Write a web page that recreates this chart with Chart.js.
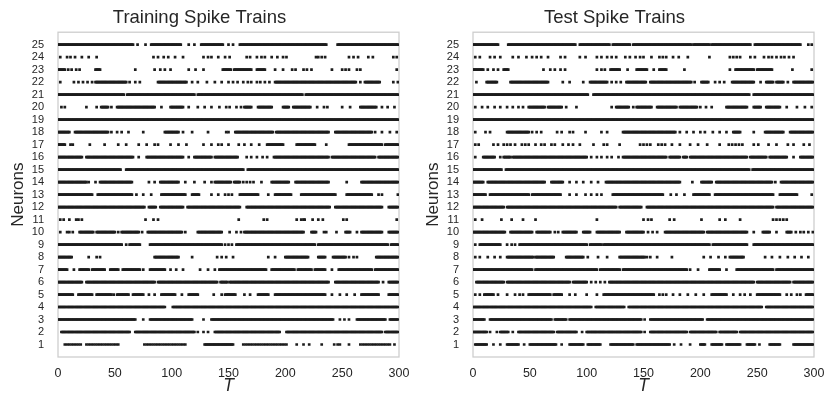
<!DOCTYPE html>
<html>
<head>
<meta charset="utf-8">
<script src="https://cdn.jsdelivr.net/npm/chart.js@4"></script>
<style>
  body{margin:0;background:#fff}
  #wrap{position:relative;width:827px;height:400px}
  canvas{position:absolute;top:0}
</style>
</head>
<body>
<div id="wrap">
  <canvas id="train" width="413" height="400" style="left:0"></canvas>
  <canvas id="test" width="413" height="400" style="left:415px"></canvas>
</div>
<script>
/* raster de spikes: entrenamiento vs test */
const NEURONS = [1,2,3,4,5,6,7,8,9,10,11,12,13,14,15,16,17,18,19,20,21,22,23,24,25];
const X_TICKS = [0,50,100,150,200,250,300];

// tramos densos [desde, hasta, paso?] por neurona (1..25)
const TRAIN_RUNS = [
  [[6,20,2],[25,53,2],[76,113,2],[129,154],[163,202,2],[266,292,2]],
  [[3,63],[68,120],[138,195],[201,285],[288,299]],
  [[0,68],[81,118],[135,242],[263,288],[292,299]],
  [[0,94],[101,299]],
  [[0,13],[18,30],[34,47],[52,62],[66,75],[91,103],[115,123],[147,156],[176,185],[191,235],[267,282],[291,299]],
  [[0,21],[25,85],[88,140],[143,149],[151,238],[244,282],[291,299]],
  [[0,8],[19,27],[30,41],[46,53],[57,72],[81,94],[142,183],[188,208],[211,223],[226,235],[247,276],[279,299]],
  [[0,12],[85,106],[200,220],[229,235],[242,253],[280,299]],
  [[0,56],[63,72],[81,144],[157,226],[229,290],[293,299]],
  [[19,31],[34,50],[56,71],[79,109],[123,144],[164,216],[223,227],[253,257],[267,285],[291,299]],
  [],
  [[0,76],[80,86],[90,110],[114,160],[166,239],[244,285],[291,299]],
  [[0,30],[35,65],[91,112],[118,124],[160,176],[191,205],[214,244],[254,276]],
  [[0,25],[37,65],[91,106],[138,152],[155,160],[188,203],[209,238],[267,299]],
  [[0,55],[60,163],[167,299]],
  [[0,21],[25,66],[78,110],[120,135],[138,158],[190,238],[241,279],[282,299]],
  [[0,6],[184,198],[210,226],[256,285],[288,299]],
  [[0,10],[15,44],[94,106],[156,189],[192,238],[244,276]],
  [[0,299]],
  [[38,44],[52,85],[99,110],[164,170],[176,188],[198,203],[207,222],[266,280]],
  [[0,58],[61,120],[123,215],[218,299]],
  [[33,60],[88,113],[191,262],[270,283]],
  [[0,6],[33,37],[145,152],[155,170],[175,182]],
  [],
  [[0,66],[82,108],[126,145],[160,236],[246,299]]
];
// spikes sueltos por neurona (1..25)
const TRAIN_DOTS = [
  [210,216,221,232,243,246,248,256,296],
  [123,128,132],
  [75,128,248,252,256],
  [],
  [49,80,85,109,137,144,150,164,169,241,248,254,261],
  [286],
  [14,75,99,104,110,125,132,138,241],
  [27,34,37,118,140,144,148,154,185,191,256,260,263],
  [60,147,150,153],
  [2,8,10,13,53,74,112,151,157,161,234,236,245,263],
  [2,5,10,16,18,21,77,84,88,159,181,184,210,214,216,217,224,229,233,251,254,298],
  [],
  [69,75,82,135,141,147,150,153,185,282,285,299],
  [27,33,80,85,90,112,120,129,135,163,166,169,172,179,254],
  [],
  [71,115,166,170,175,180,184],
  [11,13,28,41,53,60,71,78,85,88,99,106,113,128,135,141,144,150,159,164,170,177,236],
  [47,52,56,62,75,110,118,132,148,150,279,285,292,298],
  [],
  [3,6,25,34,47,91,115,123,129,135,142,148,151,157,161,228,234,237,250,257,285,290,296],
  [],
  [2,14,18,22,26,30,63,68,72,118,123,131,138,144,150,154,158,163,167,170,175,178,182,186,266,295,299],
  [9,12,16,19,68,85,90,94,99,115,121,128,191,198,206,209,216,219,223,241,250,253,256,263,266,298],
  [2,8,11,15,21,27,34,84,88,93,97,103,110,128,132,135,141,147,151,166,169,175,179,182,188,193,198,201,227,229,232,235,256,260,264,273,277,295,298],
  [70,77,115,120,150,154]
];

const TEST_RUNS = [
  [[2,12],[30,40],[50,73],[85,97],[101,112],[121,141],[144,173],[200,204],[210,219],[223,235],[241,248],[261,270],[282,299]],
  [[0,12],[24,31],[40,71],[74,91],[100,148],[156,188],[191,214],[217,232],[235,299]],
  [[0,10],[15,69],[72,82],[85,148],[156,202],[206,299]],
  [[0,104],[108,133],[137,254],[258,299]],
  [[10,18],[49,68],[71,78],[115,159],[210,223],[250,270],[293,299]],
  [[3,27],[30,85],[88,100],[120,247],[250,279],[282,299]],
  [[0,52],[55,109],[112,129],[132,188],[208,217],[232,264],[267,299]],
  [[30,53],[55,71],[82,97],[129,151],[226,238]],
  [[6,24],[41,100],[103,113],[115,208],[211,241],[247,299]],
  [[0,28],[33,52],[56,68],[79,91],[97,103],[109,129],[135,149],[169,203],[206,241],[255,261],[276,280]],
  [],
  [[0,27],[30,126],[129,148],[153,264],[267,299]],
  [[0,11],[15,49],[52,77],[123,167],[194,208],[213,264],[270,285]],
  [[0,9],[13,63],[69,79],[117,182],[201,210],[214,263],[271,299]],
  [[0,25],[29,243],[246,299]],
  [[9,19],[27,33],[35,100],[132,170],[173,182],[185,188],[191,241],[244,258],[261,276],[288,299]],
  [],
  [[30,49],[132,178],[229,235],[257,273],[279,299]],
  [[0,299]],
  [[49,63],[66,78],[126,137],[144,157],[162,179],[182,197],[223,241],[247,253],[258,270]],
  [[0,101],[106,243],[247,299]],
  [[12,21],[33,66],[103,118],[135,152],[156,192],[201,207],[228,247],[258,264],[267,273],[282,299]],
  [[0,9],[27,31],[121,129],[144,153],[164,170],[231,247],[250,263]],
  [],
  [[0,22],[31,90],[94,120],[123,138],[141,192],[194,208],[210,244],[248,288]]
];
const TEST_DOTS = [
  [18,24,45,78,177,183,191,252],
  [15,21,35,96,151],
  [151],
  [],
  [2,6,22,30,37,41,44,85,90,100,109,164,167,170,176,182,189,196,203,229,235,239,244,276,280,285,288],
  [104,108,112,116],
  [191,198,223],
  [2,6,13,19,24,101,110,118,153,156,162,175,203,209,216,222,257,263,270,277,283,289,295],
  [2,30,34,37],
  [72,75,150,154,158,162,247,267,284,288,291,295,299],
  [2,8,25,34,44,55,109,150,154,157,173,177,201,217,222,235,264,267,270,273,276],
  [],
  [85,91,99,104,109,113,174,179,186,298],
  [85,91,97,104,110,193,266],
  [],
  [2,24,104,109,113,118,122,128,282],
  [2,5,18,22,27,30,33,37,43,46,49,55,60,63,69,72,79,84,88,94,106,115,118,129,147,150,153,156,163,166,169,175,182,191,198,206,217,225,228,231,234,237,247,251,260,267,277,282,291,296],
  [2,11,15,52,56,60,74,78,85,88,99,113,118,182,188,194,200,204,211,217,223,247],
  [],
  [2,8,13,19,24,30,35,40,44,82,91,122,141,200,205,210,276,285,292,298],
  [],
  [3,79,85,97,122,126,130,195,213,217,221,253,277],
  [13,18,22,62,68,72,77,81,109,113,116,136,159,186,226,281,298],
  [2,6,15,19,24,35,40,47,52,56,60,66,77,81,94,99,109,113,118,122,126,134,138,143,147,150,157,164,167,170,176,181,189,208,226,229,232,235,244,248,256,260,263,267,271,274,278,282],
  [295,298]
];

const INK = '#262626';
const FONT = "'Liberation Sans', Arial, sans-serif";

// pasa tramos + sueltos a puntos {x:t, y:neurona}
function toPoints(runs, dots){
  const pts = [];
  NEURONS.forEach((n,i)=>{
    (runs[i]||[]).forEach(r=>{ const st=r[2]||1; for(let t=r[0];t<=r[1];t+=st) pts.push({x:t,y:n}); });
    (dots[i]||[]).forEach(t=>pts.push({x:t,y:n}));
  });
  return pts;
}

const frame = {
  id:'frame',
  beforeDatasetsDraw(chart){
    const {ctx, chartArea:a} = chart;
    ctx.save(); ctx.strokeStyle='#cccccc'; ctx.lineWidth=1.25;
    ctx.strokeRect(a.left, a.top, a.right-a.left, a.bottom-a.top);
    ctx.restore();
  }
};

function makeChart(id, title, runs, dots){
  return new Chart(document.getElementById(id), {
    type:'scatter',
    data:{datasets:[{data:toPoints(runs,dots), pointStyle:'rect', pointRadius:1.9, pointBorderWidth:0,
      backgroundColor:'#1c1c1c', borderColor:'#1c1c1c'}]},
    options:{
      responsive:false, animation:false, events:[], devicePixelRatio:1,
      layout:{padding:{left:0,right:14,top:0,bottom:0}},
      plugins:{
        legend:{display:false}, tooltip:{enabled:false},
        title:{display:true, text:title, color:INK, font:{family:FONT,size:18.5,weight:'normal'}, padding:{top:7,bottom:3}}
      },
      scales:{
        x:{type:'linear', min:0, max:300,
          grid:{display:false, drawTicks:false}, border:{display:false},
          afterBuildTicks:s=>{ s.ticks = X_TICKS.map(v=>({value:v})); },
          afterFit:s=>{ s.height = 43; s.paddingLeft = 0; s.paddingRight = 0; },
          ticks:{color:INK, font:{family:FONT,size:12.5}, padding:9, maxRotation:0, autoSkip:false},
          title:{display:true, text:'T', color:INK, font:{family:FONT,size:17.5,style:'italic'}, padding:{top:0,bottom:3}}},
        y:{type:'linear', min:0, max:26,
          grid:{display:false, drawTicks:false}, border:{display:false},
          afterBuildTicks:s=>{ s.ticks = NEURONS.map(v=>({value:v})); },
          afterFit:s=>{ s.width = 58; s.paddingTop = 0; s.paddingBottom = 0; },
          ticks:{color:INK, font:{family:FONT,size:11}, padding:14, autoSkip:false},
          title:{display:true, text:'Neurons', color:INK, font:{family:FONT,size:17}, padding:{top:8,bottom:0}}}
      }
    },
    plugins:[frame]
  });
}

makeChart('train', 'Training Spike Trains', TRAIN_RUNS, TRAIN_DOTS);
makeChart('test', 'Test Spike Trains', TEST_RUNS, TEST_DOTS);
</script>
</body>
</html>
